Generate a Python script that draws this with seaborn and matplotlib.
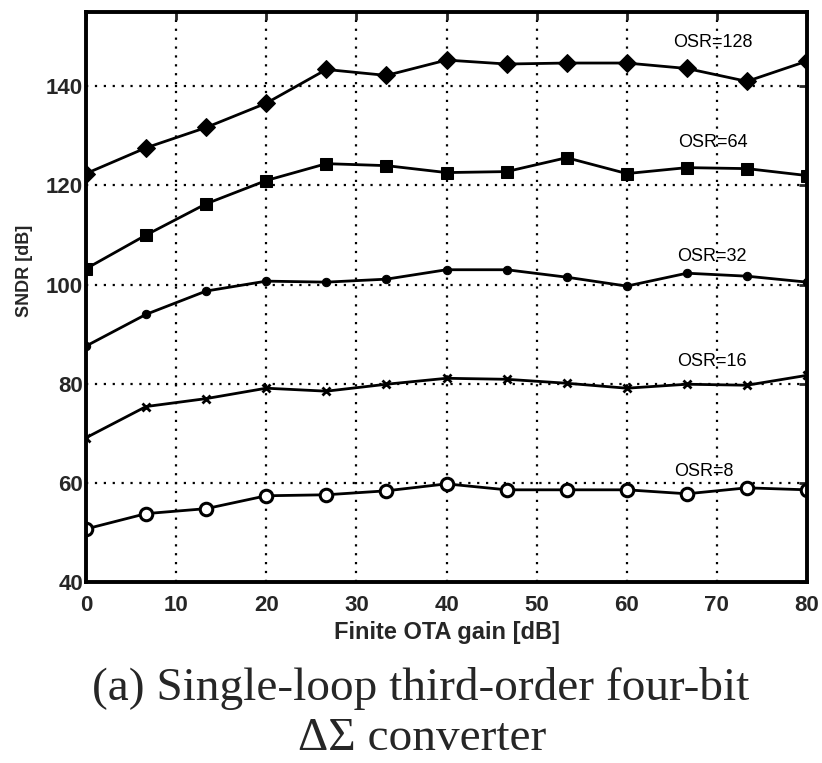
import numpy as np
import pandas as pd
import matplotlib
matplotlib.use("Agg")
import matplotlib.pyplot as plt
import seaborn as sns

gain = [0, 6.67, 13.33, 20, 26.67, 33.33, 40, 46.67, 53.33, 60, 66.67, 73.33, 80]
osr128 = [122.4, 127.6, 131.7, 136.6, 143.4, 142.2, 145.3, 144.5, 144.7, 144.7, 143.6, 141.0, 145.1]
osr64 = [103.2, 110.0, 116.3, 121.0, 124.4, 124.0, 122.6, 122.8, 125.6, 122.4, 123.6, 123.4, 122.0]
osr32 = [87.6, 94.0, 98.7, 100.7, 100.5, 101.1, 103.0, 103.0, 101.5, 99.7, 102.3, 101.7, 100.5]
osr16 = [69.1, 75.4, 77.0, 79.1, 78.5, 79.9, 81.1, 80.9, 80.1, 79.1, 79.9, 79.7, 81.7]
osr8 = [50.7, 53.8, 54.8, 57.4, 57.6, 58.4, 59.8, 58.6, 58.6, 58.6, 57.8, 59.0, 58.6]
series_names = ["OSR=128", "OSR=64", "OSR=32", "OSR=16", "OSR=8"]
label_pos = [(69.6, 148.8), (69.6, 128.6), (69.4, 105.7), (69.4, 84.4), (68.5, 62.3)]
xticks = [0, 10, 20, 30, 40, 50, 60, 70, 80]
yticks = [40, 60, 80, 100, 120, 140]

sns.set_style("white")
plt.rcParams["font.family"] = ["Liberation Sans", "DejaVu Sans"]

fig = plt.figure(figsize=(8.22, 7.63), dpi=100)
ax = fig.add_axes([0.1046, 0.2372, 0.8772, 0.7471])

values = [osr128, osr64, osr32, osr16, osr8]
styles = [
    dict(marker="D", markersize=9, markerfacecolor="black", markeredgecolor="black"),
    dict(marker="s", markersize=8, markerfacecolor="black", markeredgecolor="black"),
    dict(marker="o", markersize=6, markerfacecolor="black", markeredgecolor="black"),
    dict(marker="x", markersize=6, markeredgewidth=2, markeredgecolor="black"),
    dict(marker="o", markersize=9, markerfacecolor="white", markeredgecolor="black", markeredgewidth=2.2),
]
for name, vals, st in zip(series_names, values, styles):
    df = pd.DataFrame({"gain": gain, "sndr": vals})
    sns.lineplot(data=df, x="gain", y="sndr", ax=ax, color="black", linewidth=2.0, **st)

for name, (lx, ly) in zip(series_names, label_pos):
    ax.text(lx, ly, name, ha="center", va="center", fontsize=13, color="black")

ax.set_xlim(0, 80)
ax.set_ylim(40, 155)
ax.set_xticks(xticks)
ax.set_yticks(yticks)
ax.set_xticklabels([str(t) for t in xticks], fontsize=16, fontweight="bold")
ax.set_yticklabels([str(t) for t in yticks], fontsize=16, fontweight="bold")
ax.grid(True, color="black", linestyle=(0, (1, 3)), linewidth=1.6)
ax.tick_params(direction="in", length=6, width=2, top=True, right=True)
ax.tick_params(axis="x", pad=9)
ax.tick_params(axis="y", pad=2)
for sp in ax.spines.values():
    sp.set_color("black")
    sp.set_linewidth(2.8)
ax.set_xlabel("Finite OTA gain [dB]", fontsize=17, fontweight="bold", labelpad=4)
ax.set_ylabel("SNDR [dB]", fontsize=13, fontweight="bold")
ax.yaxis.set_label_coords(-0.0735, 0.546)

fig.text(0.512, 0.083, "(a) Single-loop third-order four-bit", ha="center", va="baseline",
         fontsize=34, family=["Liberation Serif", "DejaVu Serif"])
fig.text(0.513, 0.017, "ΔΣ converter", ha="center", va="baseline",
         fontsize=34, family=["Liberation Serif", "DejaVu Serif"])

fig.savefig("out.png", dpi=100)
